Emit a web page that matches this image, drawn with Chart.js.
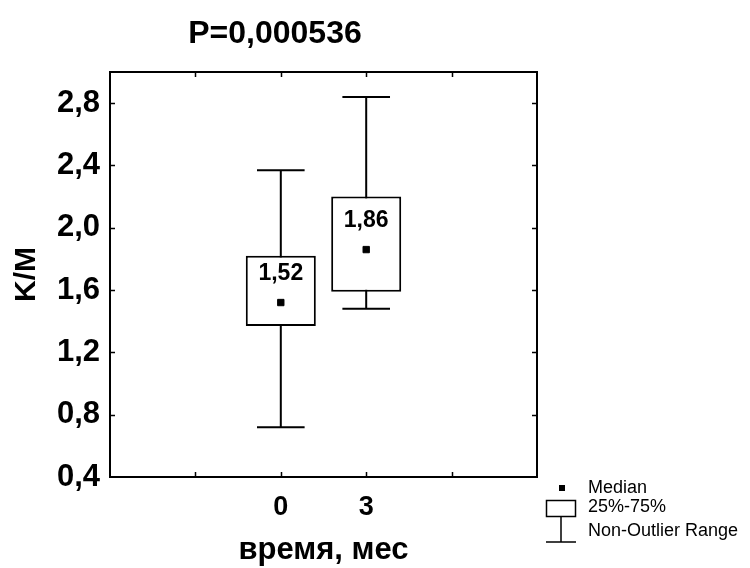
<!DOCTYPE html>
<html>
<head>
<meta charset="utf-8">
<script src="https://cdn.jsdelivr.net/npm/chart.js@4.4.0/dist/chart.umd.min.js"></script>
<style>
  html, body { margin: 0; padding: 0; background: #fff; }
  #wrap { width: 750px; height: 568px; }
</style>
</head>
<body>
<div id="wrap"><canvas id="boxChart" width="750" height="568"></canvas></div>
<script>
// Box plot K/M по времени наблюдения
const groups = ['0', '3'];
const q1 = [1.37, 1.59];
const q3 = [1.82, 2.20];
const medians = [1.52, 1.86];
const whiskerLow = [0.72, 1.48];
const whiskerHigh = [2.37, 2.84];

const pTitle = 'P=0,000536';
const xTitle = 'время, мес';
const yTitle = 'K/M';
const legendItems = ['Median', '25%-75%', 'Non-Outlier Range'];

const FONT = "'Liberation Sans', Arial, sans-serif";

// two empty slots on the left, two on the right
const xLabels = ['', ''].concat(groups, ['', '']);
const firstIdx = 2;

function pad(arr) {
  const out = xLabels.map(() => null);
  arr.forEach((v, i) => { out[firstIdx + i] = v; });
  return out;
}

const comma = (v, d) => v.toFixed(d).replace('.', ',');

const boxDecor = {
  id: 'boxDecor',
  beforeDatasetsDraw(chart) {
    const { ctx, scales: { x, y } } = chart;
    const boxes = chart.getDatasetMeta(0).data;
    ctx.save();
    ctx.strokeStyle = '#000';
    ctx.lineWidth = 2;
    groups.forEach((g, i) => {
      const cx = x.getPixelForValue(firstIdx + i);
      const half = boxes[firstIdx + i].width * 0.34;
      const yl = y.getPixelForValue(whiskerLow[i]);
      const yh = y.getPixelForValue(whiskerHigh[i]);
      ctx.beginPath();
      ctx.moveTo(cx, yl); ctx.lineTo(cx, yh);
      ctx.moveTo(cx - half, yl); ctx.lineTo(cx + half, yl);
      ctx.moveTo(cx - half, yh); ctx.lineTo(cx + half, yh);
      ctx.stroke();
    });
    ctx.restore();
  },
  afterDatasetsDraw(chart) {
    const { ctx, scales: { x, y } } = chart;
    ctx.save();
    ctx.fillStyle = '#000';
    ctx.font = 'bold 23px ' + FONT;
    ctx.textAlign = 'center';
    ctx.textBaseline = 'middle';
    medians.forEach((m, i) => {
      ctx.fillText(comma(m, 2), x.getPixelForValue(firstIdx + i), y.getPixelForValue(m) - 29);
    });
    ctx.restore();
  },
  afterDraw(chart) {
    const { ctx, chartArea: a, scales: { x, y } } = chart;
    ctx.save();
    ctx.strokeStyle = '#000';
    ctx.fillStyle = '#000';

    // frame
    ctx.lineWidth = 2;
    ctx.strokeRect(a.left, a.top, a.right - a.left, a.bottom - a.top);

    // inward tick marks
    ctx.lineWidth = 1.5;
    ctx.beginPath();
    y.ticks.forEach(t => {
      if (t.value <= y.min + 1e-6 || t.value >= y.max - 1e-6) return;
      const py = Math.round(y.getPixelForValue(t.value)) + 0.5;
      ctx.moveTo(a.left, py); ctx.lineTo(a.left + 5, py);
      ctx.moveTo(a.right, py); ctx.lineTo(a.right - 5, py);
    });
    for (let i = 1; i < xLabels.length - 1; i++) {
      const px = Math.round(x.getPixelForValue(i)) + 0.5;
      ctx.moveTo(px, a.top); ctx.lineTo(px, a.top + 5);
      ctx.moveTo(px, a.bottom); ctx.lineTo(px, a.bottom - 5);
    }
    ctx.stroke();

    // titles
    ctx.textAlign = 'center';
    ctx.textBaseline = 'alphabetic';
    ctx.font = 'bold 32px ' + FONT;
    ctx.fillText(pTitle, 275, 43);
    ctx.font = 'bold 31px ' + FONT;
    ctx.fillText(xTitle, (a.left + a.right) / 2, 559);

    // legend
    ctx.font = '18px ' + FONT;
    ctx.textAlign = 'left';
    ctx.textBaseline = 'middle';
    ctx.fillRect(559, 485, 6, 6);
    ctx.fillText(legendItems[0], 588, 488);
    ctx.lineWidth = 1.5;
    ctx.strokeRect(546.5, 500.5, 29, 16);
    ctx.fillText(legendItems[1], 588, 507);
    ctx.beginPath();
    ctx.moveTo(561, 516.5); ctx.lineTo(561, 542);
    ctx.moveTo(546, 542); ctx.lineTo(576, 542);
    ctx.stroke();
    ctx.fillText(legendItems[2], 588, 531);
    ctx.restore();
  }
};

new Chart(document.getElementById('boxChart'), {
  type: 'bar',
  data: {
    labels: xLabels,
    datasets: [
      {
        label: '25%-75%',
        order: 2,
        data: pad(groups.map((g, i) => [q1[i], q3[i]])),
        backgroundColor: '#fff',
        borderColor: '#000',
        borderWidth: 2,
        borderSkipped: false,
        categoryPercentage: 0.82,
        barPercentage: 1
      },
      {
        type: 'line',
        label: 'Median',
        order: 1,
        data: pad(medians),
        showLine: false,
        pointStyle: 'rect',
        pointRadius: 4.5,
        pointBackgroundColor: '#000',
        pointBorderColor: '#000',
        pointBorderWidth: 1
      }
    ]
  },
  options: {
    responsive: false,
    animation: false,
    layout: { padding: { top: 72, right: 213, bottom: 0, left: 0 } },
    plugins: {
      legend: { display: false },
      tooltip: { enabled: false }
    },
    scales: {
      x: {
        type: 'category',
        offset: false,
        grid: { display: false, drawTicks: false },
        border: { display: false },
        ticks: {
          autoSkip: false,
          maxRotation: 0,
          padding: 14,
          color: '#000',
          font: { family: FONT, size: 27, weight: 'bold' }
        },
        afterFit(scale) { scale.height = 91; }
      },
      y: {
        min: 0.4,
        max: 3.0,
        grid: { display: false, drawTicks: false },
        border: { display: false },
        ticks: {
          stepSize: 0.2,
          padding: 10,
          color: '#000',
          font: { family: FONT, size: 31, weight: 'bold' },
          callback(v) {
            return Math.round(v * 10) % 4 === 0 ? comma(v, 1) : '';
          }
        },
        title: {
          display: true,
          text: yTitle,
          color: '#000',
          padding: { top: 9, bottom: 0 },
          font: { family: FONT, size: 30, weight: 'bold' }
        },
        afterFit(scale) { scale.width = 110; }
      }
    }
  },
  plugins: [boxDecor]
});
</script>
</body>
</html>
